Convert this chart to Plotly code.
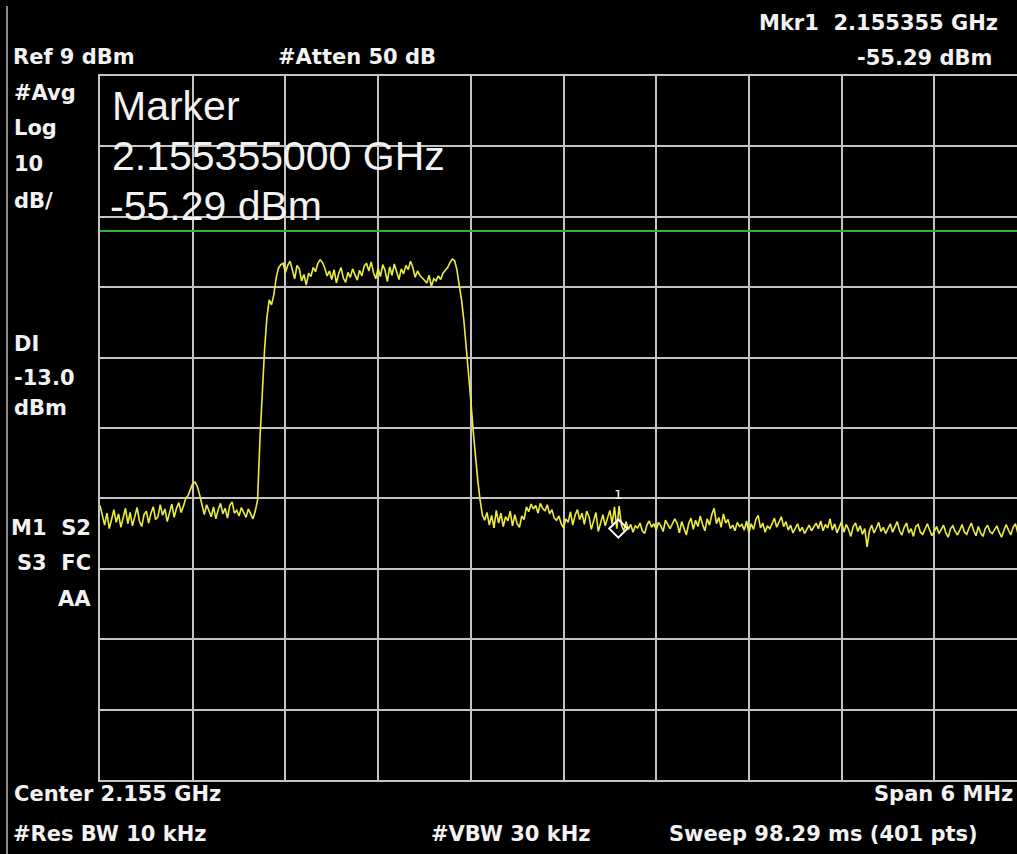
import numpy as np
import plotly.graph_objects as go

# ---------------- data ----------------
start_ghz = 2.152
stop_ghz = 2.158
n_pts = 401
ref_dbm = 9
db_per_div = 10
display_line_dbm = -13.0
marker_freq_ghz = 2.155355
marker_dbm = -55.29

floor_left_a = [-52.0, -53.6, -54.8, -53.1, -55.3, -54.0, -52.6, -54.4, -53.2, -55.1,
                -53.8, -52.4, -54.6, -53.0, -54.9, -53.5, -52.3, -54.2, -55.0, -53.3,
                -52.8, -54.5, -53.1, -52.2, -54.0, -53.6, -51.9, -53.4, -52.5, -54.3,
                -52.9, -51.8, -53.7, -52.4, -51.6, -53.0, -52.1]
bump = [-51.0, -50.6, -49.6, -48.9, -48.7, -49.3, -50.5, -52.0]
floor_left_b = [-53.3, -51.9, -52.8, -53.6, -52.2, -53.9, -52.6, -51.7, -53.2, -52.4,
                -53.8, -52.0, -51.5, -53.1, -52.7, -53.5, -52.3, -53.0, -53.7, -52.5,
                -53.3, -53.9, -52.8]
rise = [-51.2, -42.7, -35.6, -29.9, -25.4, -22.8, -23.5, -22.1, -19.7, -18.3, -17.8]
top = [-17.6, -18.9, -17.9, -17.3, -18.6, -19.8, -17.9, -18.4, -20.1, -19.2,
       -20.7, -19.0, -19.5, -18.2, -18.8, -17.6, -17.1, -17.5, -18.3, -19.4,
       -18.7, -19.9, -18.5, -20.4, -19.1, -18.2, -19.7, -20.3, -18.9, -19.6,
       -18.4, -19.2, -20.0, -18.6, -19.4, -18.0, -17.6, -18.7, -17.4, -18.9,
       -19.8, -18.3, -19.5, -17.8, -18.6, -20.2, -18.1, -19.3, -17.7, -18.8,
       -19.9, -18.4, -19.1, -17.9, -18.5, -17.3, -18.2, -19.6, -18.7, -19.3,
       -19.6, -20.0, -20.4, -19.3, -20.9, -19.8, -20.1, -19.4, -19.9, -19.0,
       -18.6, -18.2, -17.5, -17.0]
fall = [-17.2, -18.5, -20.7, -22.8, -25.7, -29.2, -33.5, -37.0, -41.3, -45.5,
        -48.4, -51.2, -53.4, -54.1]
floor_right_a = [-53.0, -54.8, -53.4, -55.2, -52.7, -54.5, -53.1, -55.0, -53.6, -54.2,
                 -52.8, -54.9, -53.3, -54.6, -55.1, -53.5, -54.0]
floor_right_b = [-52.2, -52.9, -51.8, -52.5, -52.0, -53.1, -51.7, -52.4, -52.8, -51.9,
                 -53.2, -52.6, -53.8]
floor_right_c = [-54.1, -53.5, -54.6, -55.2, -53.9, -54.4, -52.9, -54.8, -53.4, -52.6,
                 -54.0, -53.1, -54.7, -52.8, -53.6, -55.4, -54.2, -53.0, -55.7, -54.5,
                 -53.3, -54.9, -53.7, -52.7, -54.6, -52.2, -55.3]
floor_right_d = [-52.1, -54.8, -55.6, -54.3, -55.4, -54.7, -55.8, -54.9, -55.2, -54.5,
                 -55.6, -56.0, -54.8, -54.2, -55.1, -54.6, -55.5, -54.4, -54.9, -55.7,
                 -54.1, -54.7, -55.3, -54.6, -53.9, -54.5, -55.9]
floor_right_e = [-54.3, -55.2, -56.2, -54.6, -53.8, -55.4, -54.1, -55.0, -53.5, -54.7,
                 -55.6, -53.9, -54.8, -53.3, -52.4, -54.6, -53.7, -55.1, -53.2, -54.5,
                 -54.0, -55.3, -54.8, -55.6, -54.4, -55.0, -54.7, -55.5, -54.2, -55.9]
floor_right_f = [-54.6, -55.4, -54.0, -53.4, -55.2, -54.5, -55.8, -54.9, -55.3, -54.6,
                 -53.8, -55.1, -54.4, -53.6, -55.0, -54.3, -55.5, -54.8, -55.9, -55.2,
                 -54.6, -55.7, -55.1, -56.0, -55.4, -54.8, -55.6, -55.0, -54.5, -55.3]
floor_right_g = [-54.2, -55.6, -54.7, -55.2, -53.9, -55.5, -54.6, -55.9, -55.1, -54.3,
                 -55.8, -54.7, -55.4, -56.4, -55.0, -54.5, -55.7, -54.9, -56.1, -55.3,
                 -57.9, -55.6, -54.8, -55.9, -55.2, -54.4, -55.7, -55.1, -56.0, -55.4]
floor_right_h = [-54.6, -55.8, -55.0, -54.3, -55.6, -56.2, -55.1, -54.5, -55.9, -55.3,
                 -56.4, -55.0, -54.7, -55.8, -56.1, -55.2, -54.6, -55.5, -56.3, -55.7,
                 -55.0, -56.0, -55.4, -54.8, -55.9, -56.5, -55.3, -54.9, -55.7, -56.2]
floor_right_i = [-55.5, -54.7, -55.8, -56.1, -55.2, -54.5, -55.6, -56.3, -55.0, -55.9,
                 -56.4, -55.3, -54.8, -55.7, -56.0, -55.4, -54.9, -55.8, -56.5, -55.6,
                 -54.7, -55.5, -56.2, -55.1, -54.6, -55.9, -55.3, -54.8, -55.6, -55.0]

trace_dbm = (floor_left_a + bump + floor_left_b + rise + top + fall +
             floor_right_a + floor_right_b + floor_right_c + floor_right_d +
             floor_right_e + floor_right_f + floor_right_g + floor_right_h + floor_right_i)
assert len(trace_dbm) == n_pts, len(trace_dbm)
freq_ghz = np.linspace(start_ghz, stop_ghz, n_pts)

# ---------------- layout geometry ----------------
W, H = 1017, 854
L, T, R, B = 100, 76, 0, 74
plot_w = W - L - R
plot_h = H - T - B
div_px = 92.7  # horizontal pixels per division
span = stop_ghz - start_ghz
x_end = start_ghz + span / 10 * plot_w / div_px
bottom_dbm = ref_dbm - 10 * db_per_div


def px(x):
    return (x - L) / plot_w


def py(y):
    return (H - B - y) / plot_h


GRID = "#c4c4c4"
TXT = "#f2f2f2"
BOLD = dict(family="DejaVu Sans", size=21, color=TXT, weight="bold")
BIG = dict(family="Liberation Sans", size=41, color=TXT)

fig = go.Figure()
fig.add_trace(go.Scatter(x=freq_ghz, y=trace_dbm, mode="lines",
                         line=dict(color="#ecec3c", width=1.6), hoverinfo="skip"))
fig.add_trace(go.Scatter(x=[marker_freq_ghz], y=[marker_dbm], mode="markers",
                         marker=dict(symbol="diamond-open", size=14,
                                     line=dict(color="white", width=2), color="white"),
                         hoverinfo="skip"))

fig.add_shape(type="line", xref="paper", yref="y", x0=0, x1=1,
              y0=display_line_dbm, y1=display_line_dbm,
              line=dict(color="#2fb52f", width=2))
fig.add_shape(type="line", xref="paper", yref="paper", x0=px(7), x1=px(7),
              y0=py(6), y1=py(854), line=dict(color="#8a8a8a", width=2))

ann = []


def add(text, x, y, font, anchor="left"):
    ann.append(dict(text=text, x=px(x), y=py(y), xref="paper", yref="paper",
                    xanchor=anchor, yanchor="middle", showarrow=False, font=font))


add("Ref 9 dBm", 11, 57, BOLD)
add("#Atten 50 dB", 276, 57, BOLD)
add("Mkr1\u00a0 2.155355 GHz", 1000, 23, BOLD, "right")
add("-55.29 dBm", 994, 58, BOLD, "right")
add("#Avg", 12, 93, BOLD)
add("Log", 12, 128, BOLD)
add("10", 12, 164, BOLD)
add("dB/", 12, 201, BOLD)
add("DI", 12, 344, BOLD)
add("-13.0", 12, 378, BOLD)
add("dBm", 12, 408, BOLD)
add("M1\u00a0 S2", 93, 528, BOLD, "right")
add("S3\u00a0 FC", 93, 563, BOLD, "right")
add("AA", 93, 599, BOLD, "right")
add("Center 2.155 GHz", 12, 794, BOLD)
add("#Res BW 10 kHz", 11, 834, BOLD)
add("#VBW 30 kHz", 429, 834, BOLD)
add("Span 6 MHz", 1015, 794, BOLD, "right")
add("Sweep 98.29 ms (401 pts)", 667, 834, BOLD)
add("Marker", 110, 106, BIG)
add("2.155355000 GHz", 110, 156, BIG)
add("-55.29 dBm", 108, 206, BIG)
ann.append(dict(text="1", x=marker_freq_ghz, y=marker_dbm, xref="x", yref="y",
                xanchor="center", yanchor="middle", yshift=34, showarrow=False,
                font=dict(family="DejaVu Sans Mono", size=13, color="white")))

fig.update_layout(
    width=W, height=H,
    margin=dict(l=L, r=R, t=T, b=B, pad=0),
    paper_bgcolor="black", plot_bgcolor="black",
    showlegend=False,
    annotations=ann,
    xaxis=dict(range=[start_ghz, x_end], tick0=start_ghz, dtick=span / 10,
               showgrid=True, gridcolor=GRID, gridwidth=2, zeroline=False,
               showticklabels=False, ticks="", showline=True, linecolor=GRID,
               linewidth=2, mirror=True, fixedrange=True),
    yaxis=dict(range=[bottom_dbm, ref_dbm], tick0=bottom_dbm, dtick=db_per_div,
               showgrid=True, gridcolor=GRID, gridwidth=2, zeroline=False,
               showticklabels=False, ticks="", showline=True, linecolor=GRID,
               linewidth=2, mirror=False, fixedrange=True),
)

fig.write_html("out.html",
               config={"displayModeBar": False, "staticPlot": True},
               post_script="document.body.style.margin='0';"
                           "document.body.style.background='black';"
                           "document.body.style.overflow='hidden';")
